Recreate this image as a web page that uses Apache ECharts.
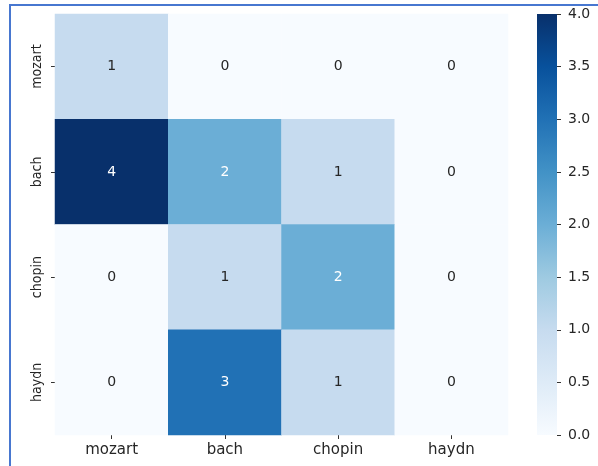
<!DOCTYPE html>
<html>
<head>
<meta charset="utf-8">
<script src="https://cdn.jsdelivr.net/npm/echarts@6/dist/echarts.min.js"></script>
<style>
html,body{margin:0;padding:0;background:#fff;}
#chart{width:598px;height:466px;}
</style>
</head>
<body>
<div id="chart"></div>
<script>
// Data
var predicted = ['mozart', 'bach', 'chopin', 'haydn'];   // x categories
var actual = ['mozart', 'bach', 'chopin', 'haydn'];      // y categories
var rowMozart = [1, 0, 0, 0];
var rowBach   = [4, 2, 1, 0];
var rowChopin = [0, 1, 2, 0];
var rowHaydn  = [0, 3, 1, 0];
var colorbarMax = 4;
var colorbarTicks = [0.0, 0.5, 1.0, 1.5, 2.0, 2.5, 3.0, 3.5, 4.0];

var rows = [rowMozart, rowBach, rowChopin, rowHaydn];
var blues = ['#f7fbff', '#deebf7', '#c6dbef', '#9ecae1', '#6baed6', '#4292c6', '#2171b5', '#08519c', '#08306b'];

var cells = [];
rows.forEach(function (row, yi) {
  row.forEach(function (v, xi) {
    cells.push({
      value: [xi, yi, v],
      label: { color: v >= 2 ? '#ffffff' : '#262626' }
    });
  });
});

var FONT = 'DejaVu Sans';
var chart = echarts.init(document.getElementById('chart'), null, { renderer: 'canvas' });

var gradStops = blues.map(function (c, i) { return { offset: i / (blues.length - 1), color: c }; });

chart.setOption({
  animation: false,
  backgroundColor: '#ffffff',
  textStyle: { fontFamily: FONT },
  grid: [
    { left: 55, top: 14, width: 453, height: 421 },
    { left: 537, top: 14, width: 20, height: 421 }
  ],
  xAxis: [
    {
      type: 'category', gridIndex: 0, data: predicted,
      axisLine: { show: false },
      axisTick: { show: true, alignWithLabel: true, length: 4, lineStyle: { color: '#333', width: 1 } },
      axisLabel: { fontSize: 15, color: '#262626', margin: 8, fontFamily: FONT },
      splitLine: { show: false }
    },
    {
      type: 'category', gridIndex: 1, data: [''],
      show: false
    }
  ],
  yAxis: [
    {
      type: 'category', gridIndex: 0, data: actual, inverse: true,
      axisLine: { show: false },
      axisTick: { show: true, alignWithLabel: true, length: 4, lineStyle: { color: '#333', width: 1 } },
      axisLabel: { fontSize: 14, color: '#262626', margin: 11, rotate: 90, fontFamily: '"DejaVu Sans Condensed", "DejaVu Sans"' },
      splitLine: { show: false }
    },
    {
      type: 'value', gridIndex: 1, min: 0, max: colorbarMax, interval: 0.5,
      position: 'right',
      axisLine: { show: false },
      axisTick: { show: true, length: 4, lineStyle: { color: '#333', width: 1 } },
      axisLabel: {
        fontSize: 14, color: '#262626', margin: 11, fontFamily: FONT,
        formatter: function (v) { return v.toFixed(1); }
      },
      splitLine: { show: false }
    }
  ],
  visualMap: {
    show: false, type: 'continuous', min: 0, max: colorbarMax, dimension: 2, seriesIndex: 0,
    inRange: { color: blues }
  },
  series: [
    {
      type: 'heatmap', xAxisIndex: 0, yAxisIndex: 0, data: cells,
      label: { show: true, fontSize: 14, fontFamily: FONT },
      itemStyle: { borderWidth: 0 },
      emphasis: { disabled: true }
    },
    {
      type: 'bar', xAxisIndex: 1, yAxisIndex: 1, data: [colorbarMax],
      barWidth: '100%',
      itemStyle: {
        color: new echarts.graphic.LinearGradient(0, 1, 0, 0, gradStops)
      },
      silent: true
    }
  ],
  graphic: [
    { type: 'rect', shape: { x: 9, y: 4, width: 589, height: 2 }, style: { fill: '#4777d0' }, silent: true, z: 100 },
    { type: 'rect', shape: { x: 9, y: 4, width: 2, height: 462 }, style: { fill: '#4777d0' }, silent: true, z: 100 }
  ]
});
</script>
</body>
</html>
